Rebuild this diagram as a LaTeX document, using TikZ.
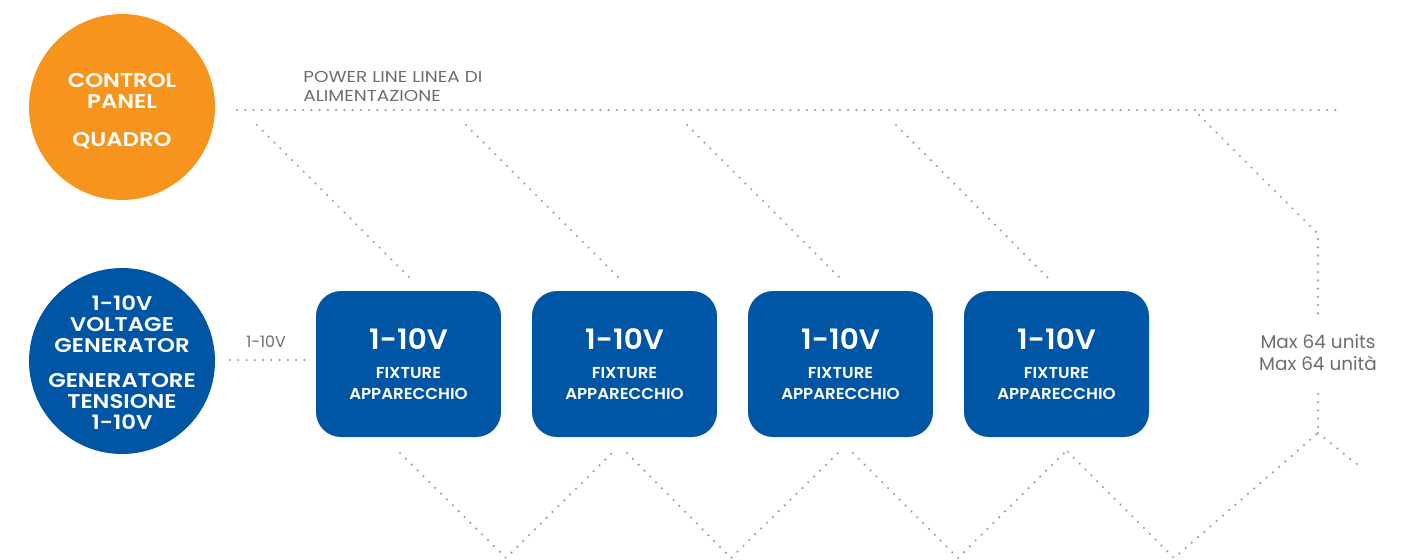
\documentclass[tikz,border=0pt]{standalone}
\usepackage{fontspec}
\setmainfont{Poppins}[BoldFont={Poppins SemiBold}]
\newfontfamily\discfont{Poppins SemiBold}[FakeStretch=1.15]
\newfontfamily\boxfont{Poppins SemiBold}[FakeStretch=1.05]
\newfontfamily\widefont{Poppins}[FakeStretch=1.17]
\definecolor{panelorange}{HTML}{F7941D}
\definecolor{fixblue}{HTML}{0055A5}
\definecolor{dotgray}{HTML}{9D9FA2}
\definecolor{labelgray}{HTML}{6D6E71}
\begin{document}
\begin{tikzpicture}[x=0.02cm, y=-0.02cm,
  dots/.style={dotgray, line width=1.4pt, line cap=round, dash pattern=on 0pt off 4.7pt},
  bigdisc/.style={circle, minimum size=3.72cm, inner sep=0pt},
  disctext/.style={inner sep=0pt, text=white, align=center,
    font=\discfont\fontsize{11.3}{11.9}\selectfont},
  fixbox/.style={fill=fixblue, rounded corners=0.5cm, minimum width=3.7cm, minimum height=2.92cm,
    inner sep=0pt, text=white, align=center, font=\boxfont\fontsize{9}{11.9}\selectfont},
  graylabel/.style={text=labelgray, inner sep=0pt, font=\fontsize{9}{10.8}\selectfont}]
\useasboundingbox (0,0) rectangle (1415,559);

% sources
\node[bigdisc, fill=panelorange] (panel) at (122,107) {};
\node[disctext] (panel-text) at (panel) {\rule{0pt}{12.5pt}CONTROL\\PANEL\\[9.6pt]QUADRO};
\node[bigdisc, fill=fixblue] (gen) at (122,361) {};
\node[disctext] (gen-text) at (gen) {\rule{0pt}{10.2pt}1-10V\\VOLTAGE\\GENERATOR\\[8.5pt]GENERATORE\\TENSIONE\\1-10V};

% fixtures
\foreach \i/\x in {1/408.5, 2/624.5, 3/840.5, 4/1056.5}
  \node[fixbox] (fix\i) at (\x,364) {{\fontsize{16}{16}\selectfont 1-10V}\\[4.5pt]FIXTURE\\APPARECCHIO};

% labels
\node[graylabel, anchor=north west, align=left, font=\widefont\fontsize{9}{10.8}\selectfont] (pl-label) at (303,71) {POWER LINE LINEA DI\\ALIMENTAZIONE};
\node[graylabel] (sig-label) at (266,342) {1-10V};
\node[graylabel, align=center, font=\fontsize{10.5}{12.5}\selectfont] (max-label) at (1318,353) {Max 64 units\\Max 64 unità};

% power line
\coordinate (pl-west) at (237,110);
\coordinate (pl-east) at (1342,110);
\draw[dots] (pl-west) -- (pl-east);

\foreach \i/\sx/\ex in {1/257/412, 2/466/621, 3/687/842, 4/896/1050}{
  \coordinate (tap\i) at (\sx,125);
  \coordinate (drop\i) at (\ex,280);
  \draw[dots] (tap\i) -- (drop\i);
}

\coordinate (tap5) at (1199,115);
\coordinate (bend) at (1318,234);
\coordinate (count-top) at (1318,317);
\draw[dots] (tap5) -- (bend) -- (count-top);

% 1-10V signal line
\coordinate (sig-west) at (230,360);
\coordinate (sig-east) at (306,360);
\draw[dots] (sig-west) -- (sig-east);

\coordinate (out1) at (400,453);
\coordinate (in2) at (613,452);
\coordinate (out2) at (627,453);
\coordinate (in3) at (839,452);
\coordinate (out3) at (853,453);
\coordinate (in4) at (1065,452);
\coordinate (out4) at (1068,452);
\coordinate (val1) at (506,558);
\coordinate (val2) at (731,558);
\coordinate (val3) at (958,558);
\coordinate (val4) at (1174,558);
\coordinate (fork) at (1318,433);
\coordinate (count-bot) at (1318,389);
\coordinate (tail) at (1358,465);

\draw[dots] (out1) -- (val1) -- (in2);
\draw[dots] (out2) -- (val2) -- (in3);
\draw[dots] (out3) -- (val3) -- (in4);
\draw[dots] (out4) -- (val4) -- (fork) -- (count-bot);
\draw[dots] (fork) -- (tail);

\end{tikzpicture}
\end{document}
